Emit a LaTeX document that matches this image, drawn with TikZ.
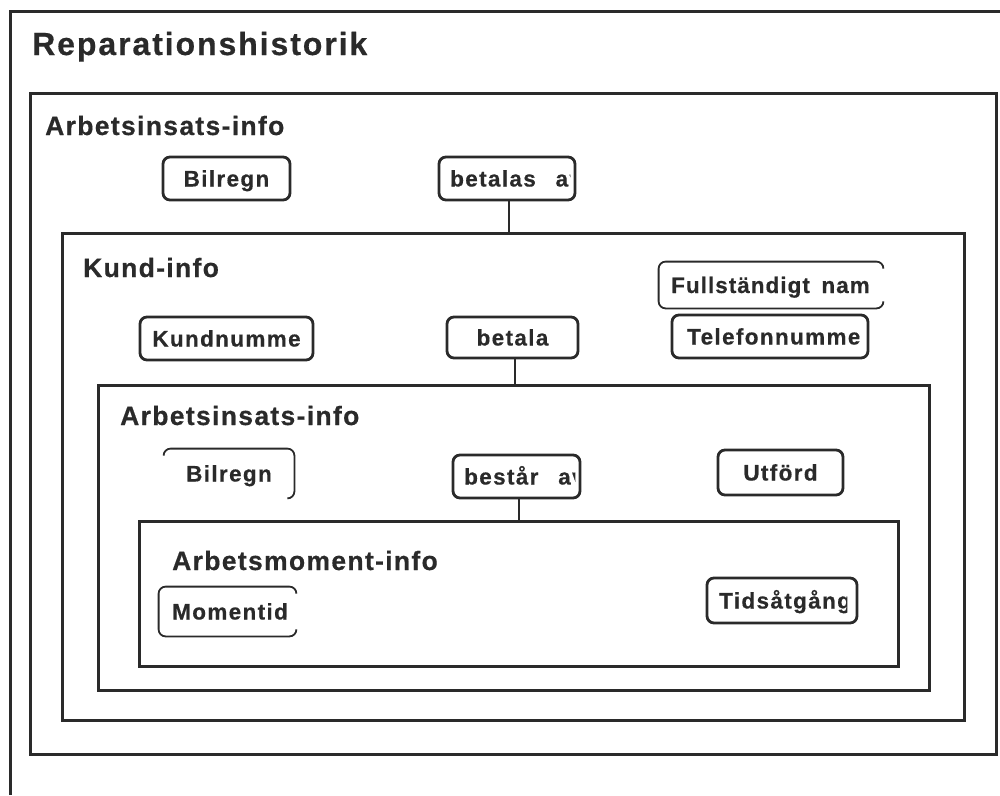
\documentclass[tikz,border=0pt]{standalone}
\usepackage{fontspec}
\newfontfamily\titlefont[LetterSpace=6,BoldFeatures={FakeBold=0.5}]{Liberation Sans}
\newfontfamily\headfont[LetterSpace=5,BoldFeatures={FakeBold=0.5}]{Liberation Sans}
\newfontfamily\fieldfont[LetterSpace=6,WordSpace=2.6,BoldFeatures={FakeBold=0.5}]{Liberation Sans}
\newfontfamily\tightfont[LetterSpace=4.5,WordSpace=1.6,BoldFeatures={FakeBold=0.5}]{Liberation Sans}
\definecolor{ink}{HTML}{2A2A2A}

\begin{document}
\begin{tikzpicture}[x=1pt,y=-1pt,
  frame/.style={draw=ink, line width=3pt, inner sep=0pt, rectangle},
  fieldtext/.style={text=ink, font=\fieldfont\bfseries\fontsize{22.5}{26}\selectfont},
  field/.style={draw=ink, line width=2.8pt, rounded corners=7pt, inner sep=0pt,
    fieldtext, text height=16pt, text depth=0pt},
  bare/.style={field, draw=none},
  partial/.style={draw=ink, line width=1.8pt, rounded corners=7pt},
  flabel/.style={fieldtext, anchor=base west, inner sep=0pt},
  heading/.style={anchor=base west, inner sep=0pt, text=ink,
    font=\headfont\bfseries\fontsize{26.5}{30}\selectfont},
  link/.style={draw=ink, line width=2.3pt},
]
\useasboundingbox (0,0) rectangle (1000,795);

% outer page frame (open to the right and bottom)
\draw[frame] (10,795) -- (10,11) -- (1000,11);
\node[anchor=base west, inner sep=0pt, text=ink,
  font=\titlefont\bfseries\fontsize{32}{36}\selectfont] (title) at (32,55) {Reparationshistorik};

% nested entity frames
\node[frame, minimum width=966pt, minimum height=661pt] (arbA) at (513,423.5) {};
\node[frame, minimum width=902pt, minimum height=487pt] (kund) at (513,476.5) {};
\node[frame, minimum width=831pt, minimum height=305pt] (arbB) at (513.5,537.5) {};
\node[frame, minimum width=759pt, minimum height=145pt] (moment) at (518.5,593.5) {};

% frame headings
\node[heading] (hArbA) at (45,135) {Arbetsinsats-info};
\node[heading] (hKund) at (83,277) {Kund-info};
\node[heading] (hArbB) at (120,425) {Arbetsinsats-info};
\node[heading] (hMoment) at (172,570) {Arbetsmoment-info};

% --- Arbetsinsats-info (outer) ---
\node[field, minimum width=127pt, minimum height=43pt] (bilregnA) at (226.5,178.5) {Bilregn};
\node[field, minimum width=136pt, minimum height=43pt] (betalasA) at (507,178.5) {};
\begin{scope}
  \clip (betalasA.north west) rectangle ([xshift=-6pt]betalasA.south east);
  \node[flabel] (betalasAT) at (450,186.5) {betalas av};
\end{scope}

% --- Kund-info ---
\node[field, minimum width=173pt, minimum height=43pt] (kundnr) at (226.5,338.5) {Kundnumme};
\node[field, minimum width=131pt, minimum height=41pt] (betala) at (512.5,337.5) {betala};
\node[bare, minimum width=222pt, minimum height=44pt] (fullnamn) at (771,285) {};
\draw[partial] ([yshift=-7pt]fullnamn.north east) -- (fullnamn.north east)
  -- (fullnamn.north west) -- (fullnamn.south west) -- (fullnamn.south east)
  -- ([yshift=7pt]fullnamn.south east);
\begin{scope}
  \clip (fullnamn.north west) rectangle ([xshift=-13.5pt]fullnamn.south east);
  \node[flabel, font=\tightfont\bfseries\fontsize{22.5}{26}\selectfont] (fullnamnT) at (671,293) {Fullständigt namn};
\end{scope}
\node[field, minimum width=196pt, minimum height=43pt] (telefon) at (770,336.5) {};
\begin{scope}
  \clip (telefon.north west) rectangle ([xshift=-10pt]telefon.south east);
  \node[flabel] (telefonT) at (687,344.5) {Telefonnummer};
\end{scope}

% --- Arbetsinsats-info (inner) ---
\node[bare, minimum width=128pt, minimum height=47pt] (bilregnB) at (229,473.5) {Bilregn};
\draw[partial] ([yshift=-7pt]bilregnB.north west) -- (bilregnB.north west)
  -- (bilregnB.north east) -- (bilregnB.south east) -- ([xshift=-7pt]bilregnB.south east);
\node[field, minimum width=127pt, minimum height=43pt] (bestar) at (516.5,476.5) {};
\begin{scope}
  \clip (bestar.north west) rectangle ([xshift=-6pt]bestar.south east);
  \node[flabel] (bestarT) at (464,484.5) {består av};
\end{scope}
\node[field, minimum width=125pt, minimum height=45pt] (utford) at (780.5,472.5) {Utförd};

% --- Arbetsmoment-info ---
\node[bare, minimum width=135pt, minimum height=47pt] (momentid) at (227.5,611.5) {};
\draw[partial] ([yshift=-7pt]momentid.north east) -- (momentid.north east)
  -- (momentid.north west) -- (momentid.south west) -- (momentid.south east)
  -- ([yshift=7pt]momentid.south east);
\begin{scope}
  \clip (momentid.north west) rectangle ([xshift=-10pt]momentid.south east);
  \node[flabel] (momentidT) at (172,619.5) {Momentid};
\end{scope}
\node[field, minimum width=150pt, minimum height=45pt] (tids) at (782,600.5) {};
\begin{scope}
  \clip (tids.north west) rectangle ([xshift=-11pt]tids.south east);
  \node[flabel] (tidsT) at (719,608.5) {Tidsåtgång};
\end{scope}

% relationship links down into the nested frames
\draw[link] ([xshift=2pt]betalasA.south) -- ([xshift=2pt]betalasA.south |- kund.north);
\draw[link] ([xshift=2.5pt]betala.south) -- ([xshift=2.5pt]betala.south |- arbB.north);
\draw[link] ([xshift=2.5pt]bestar.south) -- ([xshift=2.5pt]bestar.south |- moment.north);
\end{tikzpicture}
\end{document}
